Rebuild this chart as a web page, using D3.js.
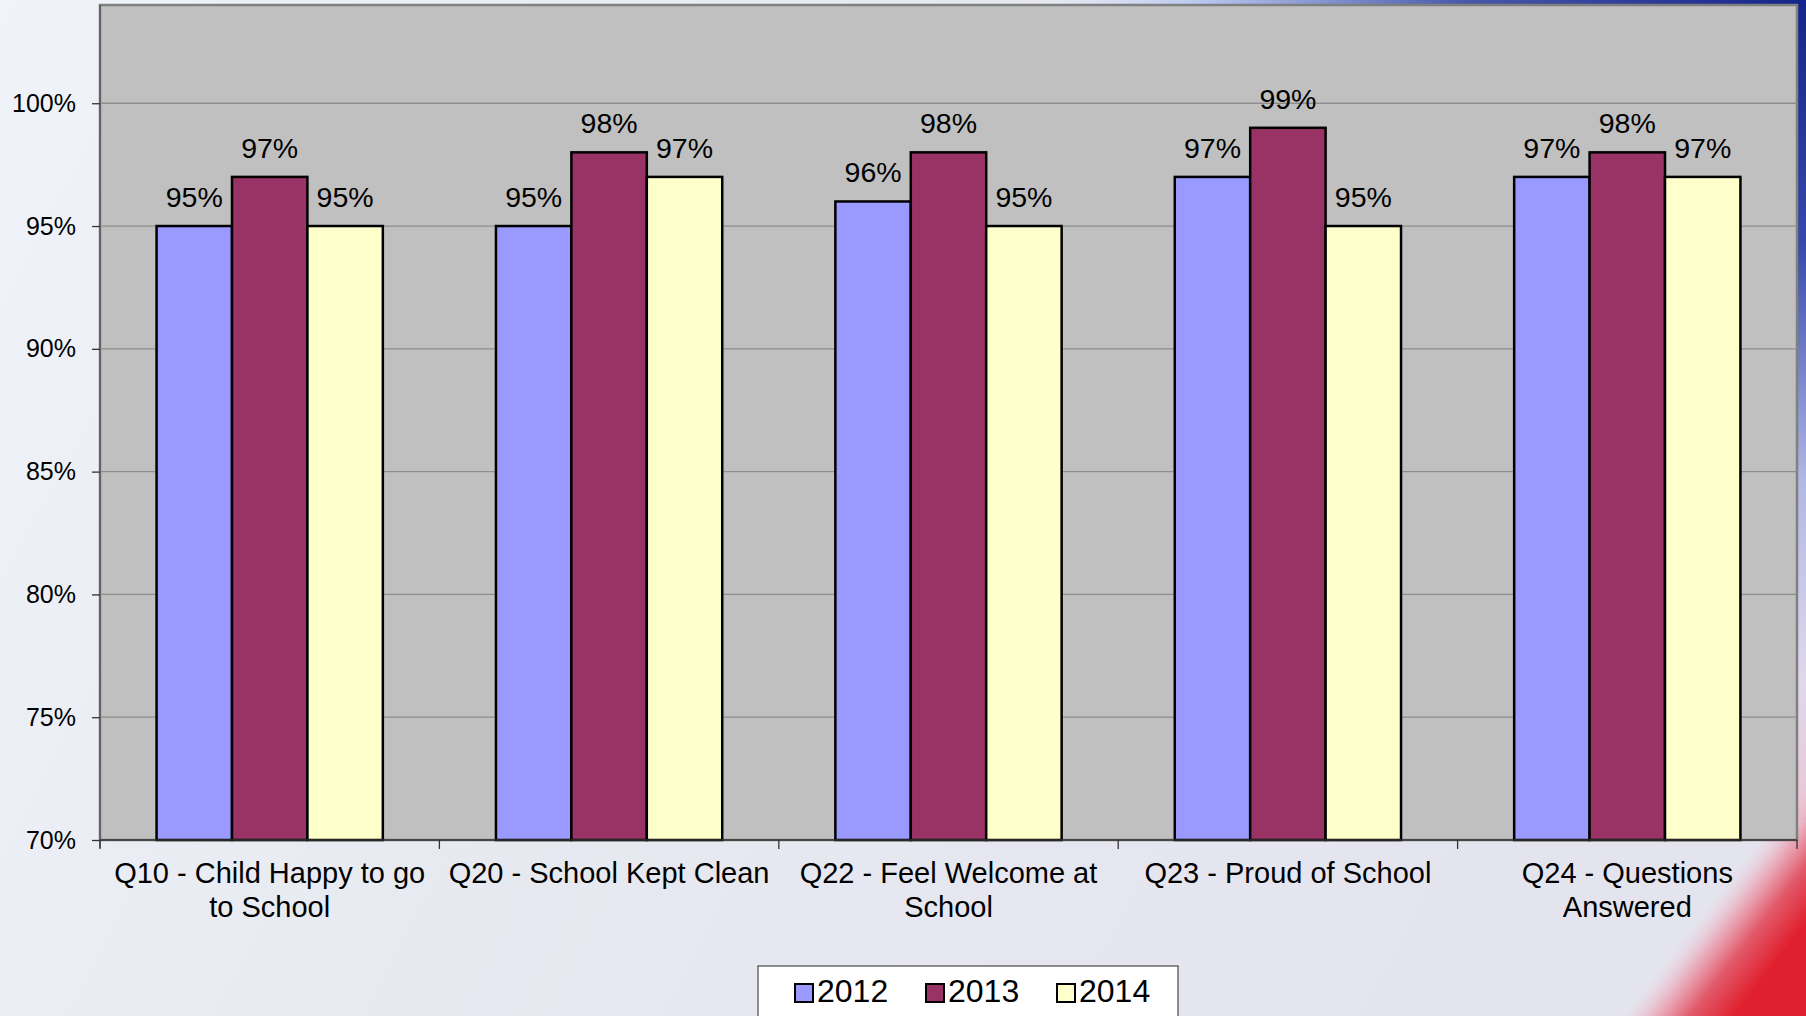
<!DOCTYPE html>
<html>
<head>
<meta charset="utf-8">
<script src="https://cdn.jsdelivr.net/npm/d3@7"></script>
<style>
html,body{margin:0;padding:0;overflow:hidden;background:#e8eaf2;}
svg{display:block;font-family:"Liberation Sans",Arial,sans-serif;}
</style>
</head>
<body>
<svg id="chart" width="1806" height="1016"></svg>
<script>
const categories = ["Q10 - Child Happy to go to School","Q20 - School Kept Clean","Q22 - Feel Welcome at School","Q23 - Proud of School","Q24 - Questions Answered"];
const seriesNames = ["2012","2013","2014"];
const values2012 = [95,95,96,97,97];
const values2013 = [97,98,98,99,98];
const values2014 = [95,97,95,95,97];
const yTicks = [70,75,80,85,90,95,100];
const colors = ["#9999FF","#993366","#FFFFCC"];

(function(){
const series = [values2012, values2013, values2014];
const W = 1806, H = 1016;
const svg = d3.select("#chart");
const defs = svg.append("defs");

// Background
const bg = defs.append("linearGradient").attr("id","bg").attr("x1","0").attr("y1","0").attr("x2","1").attr("y2","0.3");
bg.append("stop").attr("offset","0").attr("stop-color","#f1f3fb");
bg.append("stop").attr("offset","0.5").attr("stop-color","#e7e9f1");
bg.append("stop").attr("offset","1").attr("stop-color","#e4e4ee");
svg.append("rect").attr("width",W).attr("height",H).attr("fill","url(#bg)");

const topBlue = defs.append("linearGradient").attr("id","topBlue").attr("gradientUnits","userSpaceOnUse")
  .attr("x1",1050).attr("y1",0).attr("x2",1806).attr("y2",0);
topBlue.append("stop").attr("offset","0").attr("stop-color","#c8d4f4").attr("stop-opacity",0);
topBlue.append("stop").attr("offset","0.2").attr("stop-color","#b8c8f0");
topBlue.append("stop").attr("offset","0.55").attr("stop-color","#4858a8");
topBlue.append("stop").attr("offset","1").attr("stop-color","#15248a");
svg.append("rect").attr("x",0).attr("y",0).attr("width",W).attr("height",6).attr("fill","url(#topBlue)");

const sideBlue = defs.append("linearGradient").attr("id","sideBlue").attr("gradientUnits","userSpaceOnUse")
  .attr("x1",0).attr("y1",0).attr("x2",0).attr("y2",800);
sideBlue.append("stop").attr("offset","0").attr("stop-color","#15248a");
sideBlue.append("stop").attr("offset","0.3").attr("stop-color","#3648a8");
sideBlue.append("stop").attr("offset","0.6").attr("stop-color","#b0b8e4");
sideBlue.append("stop").attr("offset","0.85").attr("stop-color","#e0d8ec");
sideBlue.append("stop").attr("offset","1").attr("stop-color","#e8c8d8");
svg.append("rect").attr("x",1795).attr("y",0).attr("width",11).attr("height",820).attr("fill","url(#sideBlue)");

const red = defs.append("linearGradient").attr("id","red").attr("gradientUnits","userSpaceOnUse")
  .attr("x1",1712).attr("y1",900).attr("x2",1782).attr("y2",954);
red.append("stop").attr("offset","0").attr("stop-color","#ecd0dc").attr("stop-opacity",0);
red.append("stop").attr("offset","0.3").attr("stop-color","#eaa8b8").attr("stop-opacity",0.9);
red.append("stop").attr("offset","0.6").attr("stop-color","#e25a6a");
red.append("stop").attr("offset","1").attr("stop-color","#e0202e");
svg.append("path").attr("d","M1600,1016 L1806,750 L1806,1016 Z").attr("fill","url(#red)");

// Plot geometry
const pL = 100, pR = 1797, pT = 5, pB = 840;
const x = d3.scaleBand().domain(categories).range([pL,pR]).padding(0);
const y = d3.scaleLinear().domain([70,104]).range([pB,pT]);
const bw = x.bandwidth();
const barW = bw/4.5;

// plot area
svg.append("rect").attr("x",pL).attr("y",pT).attr("width",pR-pL).attr("height",pB-pT)
  .attr("fill","#C0C0C0").attr("stroke","#808080").attr("stroke-width",2.5);

// gridlines
svg.append("g").selectAll("line").data(yTicks.filter(t=>t>70)).join("line")
  .attr("x1",pL).attr("x2",pR).attr("y1",d=>y(d)).attr("y2",d=>y(d))
  .attr("stroke","#8e8e8e").attr("stroke-width",1.3);

// bars
const g = svg.append("g");
series.forEach((vals,si)=>{
  g.selectAll(".b"+si).data(categories).join("rect")
    .attr("x",(c)=>x(c)+barW*0.75+si*barW)
    .attr("y",(c,i)=>y(vals[i]))
    .attr("width",barW)
    .attr("height",(c,i)=>y(70)-y(vals[i]))
    .attr("fill",colors[si]).attr("stroke","#000").attr("stroke-width",2.5);
});
// data labels
series.forEach((vals,si)=>{
  g.selectAll(".l"+si).data(categories).join("text")
    .attr("x",(c)=>x(c)+barW*1.25+si*barW)
    .attr("y",(c,i)=>y(vals[i])-19)
    .attr("text-anchor","middle").attr("font-size",28.5).attr("fill","#000")
    .text((c,i)=>vals[i]+"%");
});

// Y axis
const yAxis = d3.axisLeft(y).tickValues(yTicks).tickFormat(d=>d+"%").tickSize(8).tickPadding(16);
const ya = svg.append("g").attr("transform",`translate(${pL},0)`).call(yAxis);
ya.select(".domain").attr("d",`M0,${y(70)+8}V${pT}`).attr("stroke","#555").attr("stroke-width",1.3);
ya.selectAll(".tick line").attr("stroke","#333").attr("stroke-width",1.3);
ya.selectAll(".tick text").attr("font-size",25).attr("fill","#000").attr("font-family","Liberation Sans, Arial, sans-serif");

// X axis line & ticks
svg.append("line").attr("x1",pL).attr("x2",pR).attr("y1",pB).attr("y2",pB).attr("stroke","#333").attr("stroke-width",1.5);
const bounds = categories.map(c=>x(c)).concat([pR]);
svg.append("g").selectAll("line").data(bounds).join("line")
  .attr("x1",d=>d).attr("x2",d=>d).attr("y1",pB).attr("y2",pB+9).attr("stroke","#333").attr("stroke-width",1.3);

// Category labels with wrapping
function wrapLines(text, maxW, fs){
  const words = text.split(" ");
  const tmp = svg.append("text").attr("font-size",fs);
  const lines=[]; let cur="";
  words.forEach(w=>{
    const t = cur? cur+" "+w : w;
    tmp.text(t);
    if(tmp.node().getComputedTextLength()>maxW && cur){ lines.push(cur); cur=w; } else cur=t;
  });
  if(cur) lines.push(cur);
  tmp.remove();
  return lines;
}
const catFs = 29;
categories.forEach(c=>{
  const lines = wrapLines(c, 332, catFs);
  const t = svg.append("text").attr("text-anchor","middle").attr("font-size",catFs).attr("fill","#000");
  lines.forEach((ln,i)=>{
    t.append("tspan").attr("x",x(c)+bw/2).attr("y",883+i*34).text(ln);
  });
});

// Legend
const lg = svg.append("g");
lg.append("rect").attr("x",758).attr("y",966).attr("width",420).attr("height",70)
  .attr("fill","#fff").attr("stroke","#555").attr("stroke-width",1.3);
const legX = [795, 926, 1057];
seriesNames.forEach((s,i)=>{
  lg.append("rect").attr("x",legX[i]).attr("y",984).attr("width",18).attr("height",18)
    .attr("fill",colors[i]).attr("stroke","#000").attr("stroke-width",2);
  lg.append("text").attr("x",legX[i]+22).attr("y",1002).attr("font-size",32).attr("fill","#000").text(s);
});
})();
</script>
</body>
</html>
